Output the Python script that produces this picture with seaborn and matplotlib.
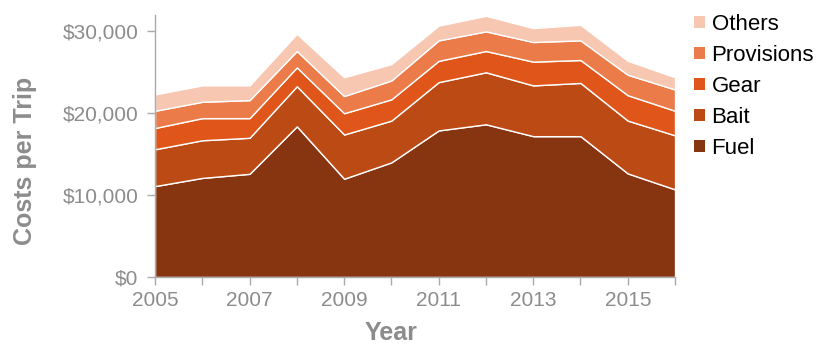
import matplotlib
matplotlib.use("Agg")
import matplotlib.pyplot as plt
from matplotlib.ticker import FuncFormatter, MultipleLocator
from matplotlib.patches import Patch
import seaborn as sns

years = list(range(2005, 2017))
fuel = [11100, 12100, 12600, 18400, 12000, 14000, 17900, 18650, 17200, 17200, 12650, 10700]
bait = [4500, 4600, 4400, 4900, 5400, 5100, 5900, 6350, 6200, 6500, 6450, 6600]
gear = [2600, 2700, 2400, 2300, 2600, 2600, 2600, 2600, 2900, 2800, 3100, 3000]
provisions = [2100, 2000, 2200, 2000, 2100, 2300, 2500, 2400, 2400, 2400, 2500, 2600]
others = [2000, 2000, 1800, 2100, 2300, 2000, 1800, 1900, 1700, 1900, 1700, 1500]
series_names = ["Fuel", "Bait", "Gear", "Provisions", "Others"]
colors = ["#873410", "#BC4A15", "#E0561A", "#EC7B4A", "#F7C7B2"]

sns.set_theme(style="white")
plt.rcParams["font.family"] = ["Liberation Sans", "DejaVu Sans"]

fig = plt.figure(figsize=(8.21, 3.44), dpi=100)
ax = fig.add_axes([0.1888, 0.1948, 0.6334, 0.7616])

ax.stackplot(years, fuel, bait, gear, provisions, others,
             colors=colors, edgecolor="white", linewidth=1.0)

ax.set_xlim(2005, 2016)
ax.set_ylim(0, 32000)
ax.yaxis.set_major_locator(MultipleLocator(10000))
ax.yaxis.set_major_formatter(FuncFormatter(lambda v, p: f"${v:,.0f}"))
ax.set_xticks(years)
ax.set_xticklabels([str(y) if (y - 2005) % 2 == 0 else "" for y in years])

grey = "#8c8c8c"
sns.despine(ax=ax)
for s in ("left", "bottom"):
    ax.spines[s].set_color("#aaaaaa")
    ax.spines[s].set_linewidth(1.0)
ax.tick_params(axis="both", which="both", direction="out", length=6, width=1,
               color="#aaaaaa", labelcolor=grey, labelsize=15, left=True, bottom=True)
ax.tick_params(axis="y", pad=6)
ax.tick_params(axis="x", pad=4)

ax.set_ylabel("Costs per Trip", fontsize=18, fontweight="bold", color=grey)
ax.yaxis.set_label_coords(-0.226, 0.443)
ax.set_xlabel("Year", fontsize=18, fontweight="bold", color=grey)
ax.xaxis.set_label_coords(0.454, -0.169)

handles = [Patch(facecolor=c, edgecolor="none") for c in colors][::-1]
labels = series_names[::-1]
leg = fig.legend(handles, labels, loc="upper left", bbox_to_anchor=(0.845, 0.960),
                 frameon=False, fontsize=16, handlelength=0.5, handleheight=0.5,
                 handletextpad=0.3, labelspacing=0.45, borderaxespad=0, borderpad=0)
for t in leg.get_texts():
    t.set_color("black")

fig.savefig("out.png", dpi=100)
